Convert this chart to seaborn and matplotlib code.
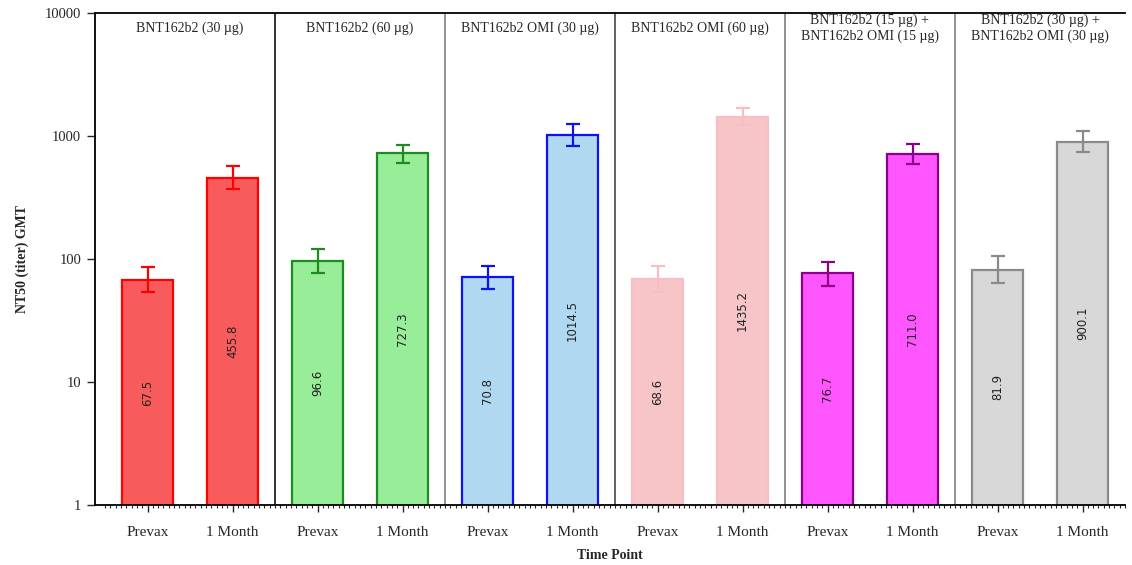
import numpy as np
import pandas as pd
import matplotlib
matplotlib.use('Agg')
import matplotlib.pyplot as plt
import matplotlib.transforms as mtransforms
from matplotlib.ticker import FixedLocator, NullLocator
import seaborn as sns

# panels (vaccine groups) and time points
groups = ['BNT162b2 (30 µg)', 'BNT162b2 (60 µg)', 'BNT162b2 OMI (30 µg)',
          'BNT162b2 OMI (60 µg)', 'BNT162b2 (15 µg) +\nBNT162b2 OMI (15 µg)',
          'BNT162b2 (30 µg) +\nBNT162b2 OMI (30 µg)']
timepoints = ['Prevax', '1 Month']

# GMT values and 95% CI (Prevax, 1 Month per group)
gmt_prevax = [67.5, 96.6, 70.8, 68.6, 76.7, 81.9]
gmt_month = [455.8, 727.3, 1014.5, 1435.2, 711.0, 900.1]
lo_prevax = [54.1, 77.4, 57.3, 53.5, 60.6, 63.8]
hi_prevax = [86.7, 121.7, 88.3, 87.9, 95.0, 106.0]
lo_month = [369, 603, 830, 1225, 591, 738]
hi_month = [569, 846, 1256, 1698, 861, 1107]

fills = ['#F75B5B', '#98EE98', '#B0D8F0', '#F7C5C8', '#FF55FF', '#D8D8D8']
edges = ['#FF0000', '#1E8B1E', '#1010F5', '#F8BEC6', '#8B008B', '#8A8A8A']
divider_colors = ['#222222', '#888888', '#555555', '#888888', '#888888']

# long table, two bars per panel, panel k spans [2k, 2k+2]
rows = []
for k, g in enumerate(groups):
    rows.append(dict(pos=2 * k + 0.5, group=g, tp='Prevax', gmt=gmt_prevax[k],
                     lo=lo_prevax[k], hi=hi_prevax[k], k=k))
    rows.append(dict(pos=2 * k + 1.5, group=g, tp='1 Month', gmt=gmt_month[k],
                     lo=lo_month[k], hi=hi_month[k], k=k))
df = pd.DataFrame(rows)

sns.set_style('ticks')
plt.rcParams['font.family'] = ['Liberation Serif', 'DejaVu Serif']

fig = plt.figure(figsize=(11.32, 5.65), dpi=100)
ax = fig.add_axes([95 / 1132, 1 - 505 / 565, 1030 / 1132, 492 / 565])

sns.barplot(data=df, x='pos', y='gmt', hue='group', palette=dict(zip(groups, fills)),
            native_scale=True, dodge=False, width=0.61, saturation=1,
            legend=False, ax=ax)

# bar outlines by panel
for p in ax.patches:
    cx = p.get_x() + p.get_width() / 2
    k = int(cx // 2)
    p.set_edgecolor(edges[k])
    p.set_linewidth(1.6)

ax.set_yscale('log')
ax.set_ylim(1, 10000)
ax.set_xlim(-10 / 85, 12)

# error bars
for _, r in df.iterrows():
    ax.errorbar(r['pos'], r['gmt'], yerr=[[r['gmt'] - r['lo']], [r['hi'] - r['gmt']]],
                fmt='none', ecolor=edges[int(r['k'])], elinewidth=1.6,
                capsize=5, capthick=1.6, zorder=3)

# value labels at the geometric middle of each bar
for _, r in df.iterrows():
    ax.text(r['pos'], np.sqrt(r['gmt']), f"{r['gmt']:.1f}", rotation=90,
            ha='center', va='center', fontsize=8.5, family='DejaVu Sans', color='#222222')

# panel dividers and titles
for i, c in enumerate(divider_colors):
    ax.axvline(2 * (i + 1), color=c, lw=1.3, zorder=1)
trans = mtransforms.blended_transform_factory(ax.transData, ax.transAxes)
for k, g in enumerate(groups):
    ax.text(2 * k + 1, 0.969, g, transform=trans, ha='center', va='center',
            fontsize=10, linespacing=1.2)

# axes styling
ax.spines['right'].set_visible(False)
for s in ['top', 'left', 'bottom']:
    ax.spines[s].set_color('black')
    ax.spines[s].set_linewidth(1.3)

ax.set_yticks([1, 10, 100, 1000, 10000])
ax.set_yticklabels(['1', '10', '100', '1000', '10000'])
ax.yaxis.set_minor_locator(NullLocator())
ax.tick_params(axis='y', which='major', length=6, width=1, pad=4, labelsize=10.5)

ax.set_xticks(df['pos'])
ax.set_xticklabels(df['tp'])
ax.xaxis.set_minor_locator(FixedLocator(np.arange(0, 12.01, 1 / 16)))
ax.tick_params(axis='x', which='major', length=5, width=1, pad=10, labelsize=11)
ax.tick_params(axis='x', which='minor', length=2.5, width=0.8)

ax.set_xlabel('Time Point', fontsize=10, fontweight='bold')
ax.set_ylabel('NT50 (titer) GMT', fontsize=10, fontweight='bold')
ax.xaxis.set_label_coords(0.5, -44 / 492)
ax.yaxis.set_label_coords(-66 / 1030, 0.5)

fig.savefig('out.png', dpi=100)
